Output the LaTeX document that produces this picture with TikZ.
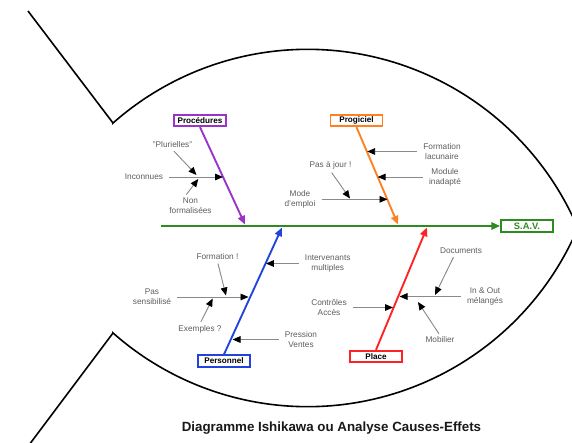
\documentclass[tikz,border=0pt]{standalone}
\usepackage{fontspec}
\setmainfont{Liberation Sans}
\usetikzlibrary{arrows.meta}
\definecolor{cproc}{HTML}{9933CC}
\definecolor{cprog}{HTML}{FF8022}
\definecolor{cpers}{HTML}{2244DD}
\definecolor{cplace}{HTML}{FF2222}
\definecolor{cspine}{HTML}{2E8B22}
\definecolor{labgray}{HTML}{5E5E5E}
\definecolor{linegray}{HTML}{8A8A8A}
\begin{document}
\begin{tikzpicture}[x=0.75pt,y=-0.75pt,
  catbox/.style={draw, line width=1.4pt, fill=white, minimum width=39pt, minimum height=8.6pt, inner sep=0pt, font=\fontsize{6.1}{7}\selectfont\bfseries, text=black},
  lab/.style={font=\fontsize{6.2}{7.4}\selectfont, text=labgray, align=center, inner sep=1pt},
  cause/.style={draw=linegray, line width=0.7pt, shorten <=3.5pt, -{Triangle[length=6pt,width=5pt,color=black,fill=black]}},
  sub/.style={draw=linegray, line width=0.7pt, shorten <=1.5pt, -{Triangle[length=6pt,width=5pt,color=black,fill=black]}},
  bone/.style={line width=1.4pt, -{Triangle[length=6.5pt,width=5.5pt]}},
  fish/.style={draw=black, line width=1.2pt}
]
\fill[white] (0,0) rectangle (572,443);
\useasboundingbox (0,0) rectangle (572,443);

% fish outline
\draw[fish] (28,11) -- (113,123)
  -- plot[domain=-131.5:-23.05,samples=90] ({307.6+293.7*cos(\x)},{343+293.7*sin(\x)})
  -- plot[domain=23.05:131.5,samples=90] ({307.6+293.7*cos(\x)},{113+293.7*sin(\x)})
  -- (113,333) -- (29,445);

% category boxes
\node[catbox, draw=cproc] (proc) at (200,120.5) {Procédures};
\node[catbox, draw=cprog] (prog) at (356.5,120.5) {Progiciel};
\node[catbox, draw=cpers] (pers) at (224,361) {Personnel};
\node[catbox, draw=cplace] (place) at (376,356.5) {Place};
\node[catbox, draw=cspine, text=cspine, font=\fontsize{7}{8}\selectfont\bfseries] (sav) at (527,226) {S.A.V.};

% spine
\coordinate (spL) at (161,226);
\draw[bone, cspine, line width=1.5pt] (spL) -- (sav.west);

% bones
\coordinate (procT) at (245,224.5);
\coordinate (progT) at (398,224.5);
\coordinate (persT) at (282,227.5);
\coordinate (placeT) at (427,227.5);
\draw[bone, cproc] (proc.south) -- (procT);
\draw[bone, cprog] (prog.south) -- (progT);
\draw[bone, cpers] (pers.north) -- (persT);
\draw[bone, cplace] (place.north) -- (placeT);

% labels
\node[lab] (inc) at (144,177) {Inconnues};
\node[lab] (plur) at (172.5,145) {"Plurielles"};
\node[lab] (nonf) at (190.5,205.5) {Non\\formalisées};
\node[lab] (forml) at (442,151.5) {Formation\\lacunaire};
\node[lab] (modin) at (445,177) {Module\\inadapté};
\node[lab] (paj) at (330.5,165.5) {Pas à jour !};
\node[lab] (mode) at (300,199.3) {Mode\\d'emploi};
\node[lab] (interv) at (327.7,263.5) {Intervenants\\multiples};
\node[lab] (form) at (217.5,257) {Formation !};
\node[lab] (passens) at (152,297) {Pas\\sensibilisé};
\node[lab] (exem) at (200,329) {Exemples ?};
\node[lab] (press) at (301,339.5) {Pression\\Ventes};
\node[lab] (docs) at (461,251) {Documents};
\node[lab] (inout) at (485,296.5) {In \& Out\\mélangés};
\node[lab] (ctrl) at (329,307.5) {Contrôles\\Accès};
\node[lab] (mob) at (440,340) {Mobilier};

% cause targets on bones
\coordinate (incT) at (223,177);
\coordinate (formlT) at (367.2,151.5);
\coordinate (modinT) at (377.7,177);
\coordinate (modeT) at (387.5,199.3);
\coordinate (intervT) at (265.9,263.5);
\coordinate (passensT) at (248.5,297);
\coordinate (pressT) at (232.5,339.5);
\coordinate (inoutT) at (399.5,296.5);
\coordinate (ctrlT) at (393,307.5);

\draw[cause] (inc) -- (incT);
\draw[cause] (forml) -- (formlT);
\draw[cause] (modin) -- (modinT);
\draw[cause] (mode) -- (modeT);
\draw[cause] (interv) -- (intervT);
\draw[cause] (passens) -- (passensT);
\draw[cause] (press) -- (pressT);
\draw[cause] (inout) -- (inoutT);
\draw[cause] (ctrl) -- (ctrlT);

% sub-cause targets on cause lines
\coordinate (plurT) at (196.5,175);
\coordinate (nonfT) at (198.3,179);
\coordinate (pajT) at (350,198.5);
\coordinate (formT) at (226,295.5);
\coordinate (exemT) at (212.7,298.5);
\coordinate (docsT) at (435,295);
\coordinate (mobT) at (418,302);

\draw[sub] (plur.south) -- (plurT);
\draw[sub] ([xshift=-4pt]nonf.north) -- (nonfT);
\draw[sub] (paj.south) -- (pajT);
\draw[sub] (form.south) -- (formT);
\draw[sub] (exem.north) -- (exemT);
\draw[sub] ([xshift=-5pt]docs.south) -- (docsT);
\draw[sub] (mob.north) -- (mobT);

% title
\node[font=\fontsize{10}{12}\selectfont\bfseries, text=black!90] (title) at (331.5,428) {Diagramme Ishikawa ou Analyse Causes-Effets};
\end{tikzpicture}
\end{document}
